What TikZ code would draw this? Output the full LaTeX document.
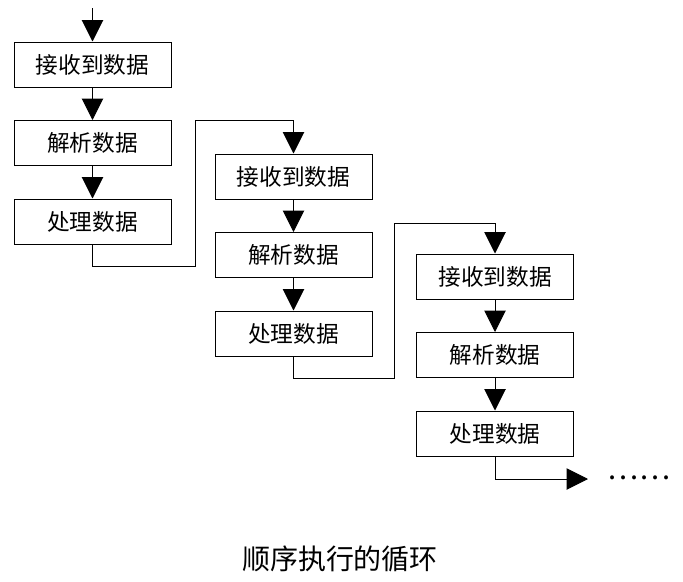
\documentclass[tikz,border=0pt]{standalone}
\usepackage{fontspec}
\setmainfont{Noto Sans CJK SC}
\usetikzlibrary{arrows.meta}
\begin{document}
\begin{tikzpicture}[x=0.75pt,y=-0.75pt,
  box/.style={draw,line width=0.75pt,minimum width=117.75pt,minimum height=33.75pt,inner sep=0pt,font=\fontsize{17}{17}\selectfont},
  arr/.style={line width=0.75pt,-{Triangle[length=16pt,width=16pt]}},
  ln/.style={line width=0.75pt}]
\useasboundingbox (0,0) rectangle (683,582);
% column 1
\coordinate (s) at (92.5,8);
\node[box] (a1) at (92.5,64.5) {接收到数据};
\node[box] (b1) at (92.5,143) {解析数据};
\node[box] (c1) at (92.5,221.5) {处理数据};
% column 2
\node[box] (a2) at (293.5,176.5) {接收到数据};
\node[box] (b2) at (293.5,255) {解析数据};
\node[box] (c2) at (293.5,333.5) {处理数据};
% column 3
\node[box] (a3) at (495,276.5) {接收到数据};
\node[box] (b3) at (495,355) {解析数据};
\node[box] (c3) at (495,433.5) {处理数据};
% arrows
\draw[arr] (s) -- (a1);
\draw[arr] (a1) -- (b1);
\draw[arr] (b1) -- (c1);
\draw[arr] (a2) -- (b2);
\draw[arr] (b2) -- (c2);
\draw[arr] (a3) -- (b3);
\draw[arr] (b3) -- (c3);
% loops
\coordinate (p1) at (92.5,266);
\coordinate (p2) at (195,266);
\coordinate (p3) at (195,120);
\coordinate (p4) at (293.5,120);
\draw[ln] (c1) -- (p1) -- (p2) -- (p3) -- (p4);
\draw[arr] (p4) -- (a2);
\coordinate (q1) at (293.5,378);
\coordinate (q2) at (394,378);
\coordinate (q3) at (394,223);
\coordinate (q4) at (495,223);
\draw[ln] (c2) -- (q1) -- (q2) -- (q3) -- (q4);
\draw[arr] (q4) -- (a3);
\coordinate (r1) at (495,479);
\coordinate (r2) at (588,479);
\draw[ln] (c3) -- (r1);
\draw[arr] (r1) -- (r2);
\node[inner sep=0pt,font=\fontsize{22}{22}\selectfont] (dots) at (639,478) {……};
\node[inner sep=0pt,font=\fontsize{21}{21}\selectfont] (cap) at (340,559) {顺序执行的循环};
\end{tikzpicture}
\end{document}
